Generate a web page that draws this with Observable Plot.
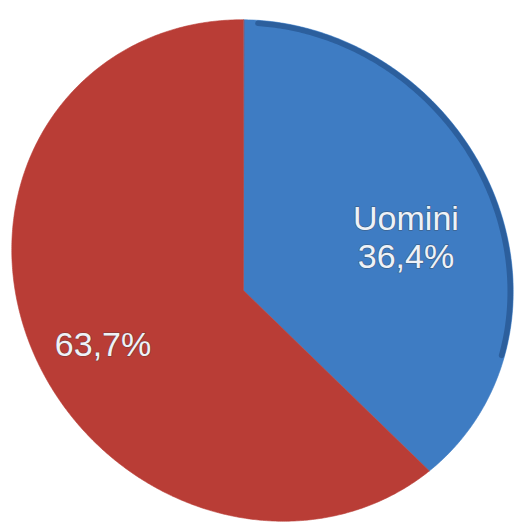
<!DOCTYPE html>
<html>
<head>
<meta charset="utf-8">
<script src="https://cdn.jsdelivr.net/npm/d3@7"></script>
<script src="https://cdn.jsdelivr.net/npm/@observablehq/plot@0.6"></script>
<style>
  html, body { margin: 0; padding: 0; background: #ffffff; }
  #chart { width: 514px; height: 523px; }
</style>
</head>
<body>
<div id="chart"></div>
<script>
// ---- data ----
const names = ["Uomini", ""];
const values = [36.4, 63.7];
const pctLabels = ["36,4%", "63,7%"];

// ---- style ----
const colors = ["#3e7cc3", "#b93d36"];
const rimColor = "#2c5f9d";
const W = 514, H = 523;
const center = [262, 270];       // ellipse centre (screen px)
const apex = [243, 290];         // pie apex (perspective)
const semiA = 261, semiB = 240;  // ellipse axes, major along NW-SE
const warp = 0.075;              // perspective angular warp
const labelRadius = [172, 150];
const labelDx = [6, -4];
const labelDy = [18, -9];

const SQ = Math.SQRT1_2;
function rayHit(theta0) {
  const theta = theta0 + warp * Math.sin(theta0);
  const dx = Math.sin(theta), dy = -Math.cos(theta);
  const px = apex[0] - center[0], py = apex[1] - center[1];
  const pu = (px + py) * SQ, pw = (px - py) * SQ;
  const du = (dx + dy) * SQ, dw = (dx - dy) * SQ;
  const a2 = semiA * semiA, b2 = semiB * semiB;
  const A = du * du / a2 + dw * dw / b2;
  const B = 2 * (pu * du / a2 + pw * dw / b2);
  const C = pu * pu / a2 + pw * pw / b2 - 1;
  const t = (-B + Math.sqrt(B * B - 4 * A * C)) / (2 * A);
  return [apex[0] + t * dx, apex[1] + t * dy, t];
}

const arcs = d3.pie().sort(null)(values);
const step = Math.PI / 360;

const slicePts = arcs.map((arc, i) => {
  const pts = [{x: apex[0], y: apex[1]}];
  for (let th = arc.startAngle; th < arc.endAngle; th += step) {
    const [x, y] = rayHit(th); pts.push({x, y});
  }
  const [x, y] = rayHit(arc.endAngle); pts.push({x, y});
  return pts;
});

// dark rim along the upper-right part of the blue slice (3D edge)
const rimPts = [];
for (let th = arcs[0].startAngle + 0.05; th <= arcs[0].startAngle + 1.75; th += step) {
  const [x, y, t] = rayHit(th);
  const k = (t - 3) / t;
  rimPts.push({x: apex[0] + (x - apex[0]) * k, y: apex[1] + (y - apex[1]) * k});
}

const labels = arcs.map((arc, i) => {
  const mid = (arc.startAngle + arc.endAngle) / 2;
  return {
    x: apex[0] + labelRadius[i] * Math.sin(mid) + labelDx[i],
    y: apex[1] - labelRadius[i] * Math.cos(mid) + labelDy[i],
    text: names[i] ? names[i] + "\n" + pctLabels[i] : pctLabels[i]
  };
});

const marks = [];
slicePts.forEach((pts, i) => {
  marks.push(Plot.line(pts, {x: "x", y: "y", fill: colors[i], stroke: colors[i], strokeWidth: 0.6, curve: "linear-closed"}));
});
marks.push(Plot.line(rimPts, {x: "x", y: "y", stroke: rimColor, strokeWidth: 5.5, strokeLinecap: "round"}));
marks.push(Plot.text(labels, {
  x: "x", y: "y", text: "text",
  fontSize: 34, fontFamily: "Liberation Sans, Arial, sans-serif",
  lineHeight: 1.12,
  fill: "#eef2f7", stroke: "#3a3a3a", strokeOpacity: 0.4, strokeWidth: 1.5
}));

const chart = Plot.plot({
  width: W, height: H,
  margin: 0,
  x: {domain: [0, W], axis: null},
  y: {domain: [H, 0], axis: null},
  style: {background: "transparent"},
  marks
});
document.getElementById("chart").appendChild(chart);
</script>
</body>
</html>
